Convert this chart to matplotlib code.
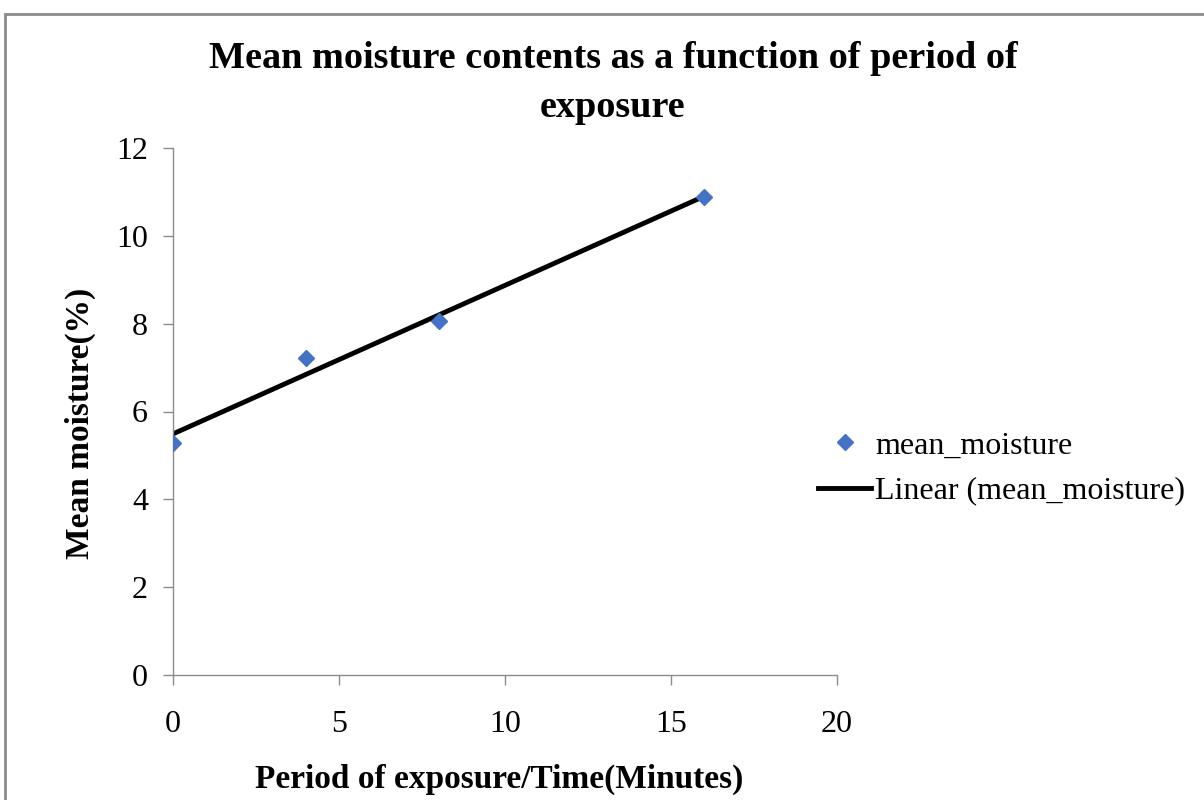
import numpy as np
import matplotlib.pyplot as plt
from matplotlib.patches import Rectangle

plt.rcParams['font.family'] = ['Liberation Serif', 'DejaVu Serif']

# data
exposure_min = [0, 4, 8, 16]
mean_moisture = [5.28, 7.22, 8.05, 10.88]
x_ticks = [0, 5, 10, 15, 20]
y_ticks = [0, 2, 4, 6, 8, 10, 12]

# linear trendline over the data range
slope, intercept = np.polyfit(exposure_min, mean_moisture, 1)
trend_x = np.array([min(exposure_min), max(exposure_min)])
trend_y = slope * trend_x + intercept

W, H = 1204, 800
fig = plt.figure(figsize=(W / 100, H / 100), dpi=100)
ax = fig.add_axes([173 / W, 1 - 675 / H, (837 - 173) / W, (675 - 148) / H])

ax.plot(exposure_min, mean_moisture, linestyle='none', marker='D',
        markersize=8, color='#4472C4', label='mean_moisture', zorder=3)
ax.plot(trend_x, trend_y, color='black', linewidth=3.5,
        label='Linear (mean_moisture)', zorder=2)

ax.set_xlim(0, 20)
ax.set_ylim(0, 12)
ax.set_xticks(x_ticks)
ax.set_yticks(y_ticks)
for s in ['top', 'right']:
    ax.spines[s].set_visible(False)
for s in ['left', 'bottom']:
    ax.spines[s].set_color('#8c8c8c')
    ax.spines[s].set_linewidth(1.0)
ax.tick_params(axis='both', colors='#8c8c8c', length=7, width=1.0,
               labelsize=23, labelcolor='black')
ax.tick_params(axis='x', pad=18)
ax.tick_params(axis='y', pad=11)

ax.set_xlabel('Period of exposure/Time(Minutes)', fontsize=24,
              fontweight='bold')
ax.set_ylabel('Mean moisture(%)', fontsize=24, fontweight='bold')
ax.xaxis.set_label_coords(0.491, -0.168)
ax.yaxis.set_label_coords(-0.116, 0.478)

fig.text(613 / W, 1 - 83 / H,
         'Mean moisture contents as a function of period of\nexposure',
         ha='center', va='center', fontsize=27.5, fontweight='bold',
         linespacing=1.5)

leg = ax.legend(loc='upper left', bbox_to_anchor=(818 / W, 1 - 431 / H),
                bbox_transform=fig.transFigure, frameon=False, fontsize=23,
                handlelength=1.66, handletextpad=0.12, labelspacing=0.5,
                borderpad=0, borderaxespad=0)

# outer chart frame
fig.patches.append(Rectangle((5 / W, -0.1), 1.2, 1.1 - 14 / H,
                             transform=fig.transFigure, fill=False,
                             edgecolor='#8c8c8c', linewidth=2))

fig.savefig('out.png', dpi=100)
